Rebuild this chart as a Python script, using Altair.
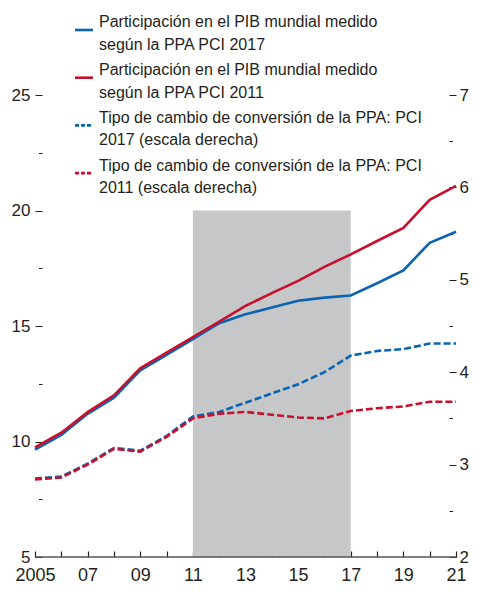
import altair as alt
import pandas as pd

# ---------------- data ----------------
years = list(range(2005, 2022))
share_pci2017 = [9.65, 10.28, 11.2, 11.9, 13.08, 13.75, 14.43, 15.12, 15.51, 15.8, 16.09, 16.23, 16.32, 16.85, 17.41, 18.6, 19.08]
share_pci2011 = [9.75, 10.38, 11.27, 12.0, 13.17, 13.85, 14.52, 15.19, 15.87, 16.42, 16.95, 17.56, 18.1, 18.68, 19.25, 20.46, 21.07]
ppp_pci2017 = [2.85, 2.87, 3.01, 3.18, 3.15, 3.31, 3.52, 3.57, 3.67, 3.77, 3.87, 4.0, 4.18, 4.23, 4.25, 4.31, 4.31]
ppp_pci2011 = [2.84, 2.86, 3.0, 3.17, 3.14, 3.30, 3.50, 3.55, 3.57, 3.54, 3.51, 3.50, 3.58, 3.61, 3.63, 3.68, 3.68]

series_names = [
    "Participación en el PIB mundial medido\nsegún la PPA PCI 2017",
    "Participación en el PIB mundial medido\nsegún la PPA PCI 2011",
    "Tipo de cambio de conversión de la PPA: PCI\n2017 (escala derecha)",
    "Tipo de cambio de conversión de la PPA: PCI\n2011 (escala derecha)",
]
shade_start = [2011]
shade_end = [2017]
shade_bottom = [5]
shade_top = [20]

left_ticks = [5, 7.5, 10, 12.5, 15, 17.5, 20, 22.5, 25]
right_ticks = [2, 2.5, 3, 3.5, 4, 4.5, 5, 5.5, 6, 6.5, 7]

# ---------------- styles ----------------
FONT = "Liberation Sans"
TXT = "#231F20"
BLUE = "#0A64B0"
RED = "#C8102E"
SHADE = "#C6C7C9"
LW = 2.6

rows = []
for s, vals in zip(series_names, [share_pci2017, share_pci2011, ppp_pci2017, ppp_pci2011]):
    for yr, v in zip(years, vals):
        rows.append({"year": yr, "value": v, "serie": s})
df = pd.DataFrame(rows)
solid_df = df[df.serie.isin(series_names[:2])]
dash_df = df[df.serie.isin(series_names[2:])]

shade_df = pd.DataFrame({"x0": shade_start, "x1": shade_end, "y0": shade_bottom, "y1": shade_top})
base_df = pd.DataFrame({"x0": [years[0]], "x1": [years[-1]], "y0": [left_ticks[0]]})
leg_df = pd.DataFrame({"serie": series_names, "idx": list(range(len(series_names)))})

x_axis = alt.Axis(
    values=years, format="d",
    labelExpr="datum.value == 2005 ? '2005' : (datum.value % 2 == 1 ? slice(toString(datum.value), 2) : '')",
    offset=-6, tickSize=6, domain=False, grid=False, labelPadding=9,
    labelFont=FONT, labelFontSize=18, labelColor=TXT, tickColor=TXT, tickWidth=1.2,
    title=None, labelOverlap=False, labelFlush=False,
)
x_scale = alt.Scale(domain=[2005, 2021], nice=False, zero=False)

left_scale = alt.Scale(domain=[5, 25], nice=False, zero=False)
right_scale = alt.Scale(domain=[2, 7], nice=False, zero=False)

left_axis = alt.Axis(
    orient="left", values=left_ticks,
    labelExpr="datum.value % 5 == 0 ? format(datum.value, 'd') : ''",
    offset=-7, tickSize={"condition": {"test": "datum.value % 5 === 0", "value": 7}, "value": 3.5},
    domain=False, grid=False, labelPadding=5, labelFont=FONT, labelFontSize=17,
    labelColor=TXT, tickColor=TXT, tickWidth=1, title=None,
)
right_axis = alt.Axis(
    orient="right", values=right_ticks,
    labelExpr="datum.value % 1 == 0 ? format(datum.value, 'd') : ''",
    offset=-7, tickSize={"condition": {"test": "datum.value % 1 === 0", "value": 7}, "value": 3.5},
    domain=False, grid=False, labelPadding=3, labelFont=FONT, labelFontSize=17,
    labelColor=TXT, tickColor=TXT, tickWidth=1, title=None,
)

color = alt.Color("serie:N", scale=alt.Scale(domain=series_names, range=[BLUE, RED, BLUE, RED]), legend=None)

shade = alt.Chart(shade_df).mark_rect(color=SHADE).encode(
    x=alt.X("x0:Q", scale=x_scale, axis=x_axis),
    x2="x1:Q",
    y=alt.Y("y0:Q", scale=left_scale, axis=None),
    y2="y1:Q",
)
baseline = alt.Chart(base_df).mark_rule(color="#555", strokeWidth=1.5).encode(
    x=alt.X("x0:Q", scale=x_scale, axis=x_axis),
    x2="x1:Q",
    y=alt.Y("y0:Q", scale=left_scale, axis=None),
)
solid = alt.Chart(solid_df).mark_line(strokeWidth=LW).encode(
    x=alt.X("year:Q", scale=x_scale, axis=x_axis),
    y=alt.Y("value:Q", scale=left_scale, axis=left_axis),
    color=color, detail="serie:N",
)
dashed = alt.Chart(dash_df).mark_line(strokeWidth=LW, strokeDash=[7, 3]).encode(
    x=alt.X("year:Q", scale=x_scale, axis=x_axis),
    y=alt.Y("value:Q", scale=right_scale, axis=right_axis),
    color=color, detail="serie:N",
)

# ---------------- legend (manual) ----------------
leg_base = alt.Chart(leg_df).transform_calculate(
    ty="-80.6 + 47.7 * datum.idx",
    sy="-65 + 47.7 * datum.idx",
)
leg_text = leg_base.mark_text(
    align="left", baseline="top", lineBreak="\n", lineHeight=22.5,
    font=FONT, fontSize=16, color=TXT,
).encode(
    x=alt.value(64),
    y=alt.Y("ty:Q", scale=None),
    text="serie:N",
)
leg_solid = leg_base.transform_filter("datum.idx < 2").mark_rule(strokeWidth=LW).encode(
    x=alt.value(40), x2=alt.value(58),
    y=alt.Y("sy:Q", scale=None),
    color=color,
)
leg_dash = leg_base.transform_filter("datum.idx >= 2").mark_rule(strokeWidth=LW, strokeDash=[4, 2]).encode(
    x=alt.value(40), x2=alt.value(58),
    y=alt.Y("sy:Q", scale=None),
    color=color,
)

chart = alt.layer(shade, baseline, solid, dashed, leg_text, leg_solid, leg_dash).resolve_scale(
    y="independent"
).properties(
    width=421, height=462,
    autosize=alt.AutoSizeParams(type="none"),
    padding={"left": 27, "top": 87, "right": 15, "bottom": 27},
    background="white",
).configure_view(stroke=None)

chart.save("out.html", embed_options={"renderer": "svg", "actions": False})
